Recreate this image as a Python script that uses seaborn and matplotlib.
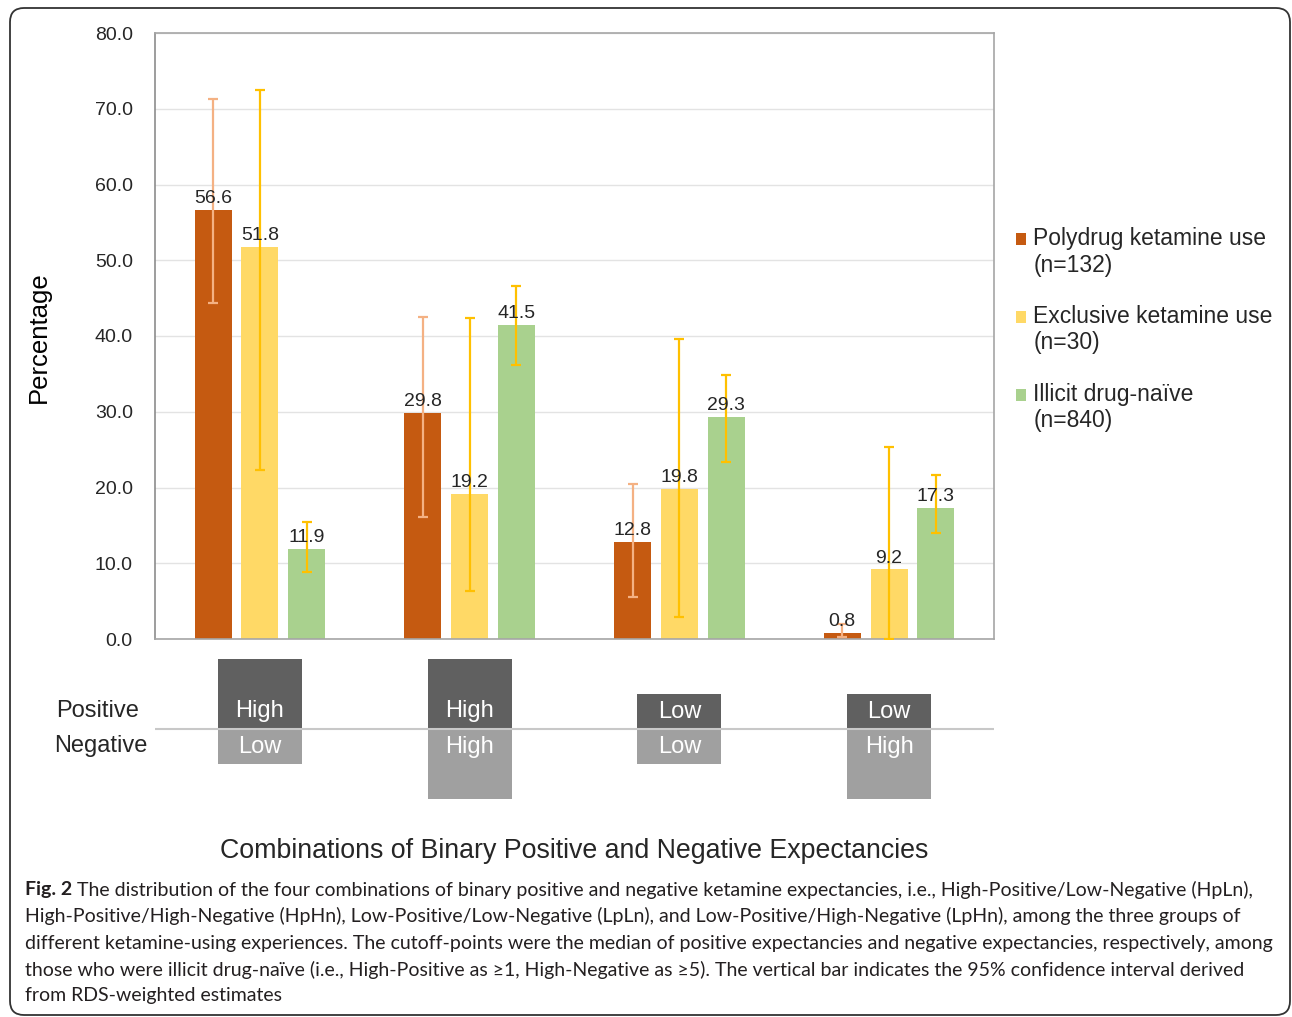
import numpy as np
import pandas as pd
import matplotlib.pyplot as plt
import seaborn as sns
from matplotlib.patches import FancyBboxPatch, Rectangle
from matplotlib.legend_handler import HandlerPatch

# categories / groups
combos = ["HpLn", "HpHn", "LpLn", "LpHn"]
groups = ["Polydrug ketamine use\n(n=132)",
          "Exclusive ketamine use\n(n=30)",
          "Illicit drug-naïve\n(n=840)"]

# percentages and 95% CI
poly = [56.6, 29.8, 12.8, 0.8]
excl = [51.8, 19.2, 19.8, 9.2]
naive = [11.9, 41.5, 29.3, 17.3]
poly_lo = [44.4, 16.1, 5.5, 0.2]
poly_hi = [71.3, 42.5, 20.5, 2.0]
excl_lo = [22.3, 6.3, 2.9, 0.0]
excl_hi = [72.5, 42.4, 39.6, 25.3]
naive_lo = [8.8, 36.2, 23.4, 14.0]
naive_hi = [15.4, 46.6, 34.9, 21.6]

positive = ["High", "High", "Low", "Low"]
negative = ["Low", "High", "Low", "High"]

bar_colors = ["#C55A11", "#FFD966", "#A9D18E"]
err_colors = ["#F4B183", "#FFC000", "#FFC000"]

W, H = 1292, 1017

def fx(px):
    return px / W

def fy(py):
    return 1 - py / H

sns.set_theme(style="white")
plt.rcParams['font.family'] = ['Liberation Sans', 'DejaVu Sans']

df = pd.DataFrame({
    "combo": combos * 3,
    "group": [g for g in groups for _ in combos],
    "pct": poly + excl + naive,
})

fig = plt.figure(figsize=(W / 100, H / 100), dpi=100)
ax = fig.add_axes([fx(155), fy(639), fx(994) - fx(155), fy(33) - fy(639)])

sns.barplot(data=df, x="combo", y="pct", hue="group", order=combos,
            hue_order=groups, palette=bar_colors, width=0.67, gap=0.21,
            errorbar=None, saturation=1, linewidth=0, ax=ax)

# error bars at the bar centres
lows = [poly_lo, excl_lo, naive_lo]
highs = [poly_hi, excl_hi, naive_hi]
vals = [poly, excl, naive]
bar_conts = list(ax.containers)
for i, cont in enumerate(bar_conts):
    xs = [p.get_x() + p.get_width() / 2 for p in cont.patches]
    v = np.array(vals[i])
    yerr = [v - np.array(lows[i]), np.array(highs[i]) - v]
    ax.errorbar(xs, v, yerr=yerr, fmt="none", ecolor=err_colors[i],
                elinewidth=1.6, capsize=3.6, capthick=1.6, zorder=3)
    ax.bar_label(cont, fmt="%.1f", padding=2, fontsize=14, color="#262626", zorder=4)

ax.set_ylim(0, 80)
ax.set_xlim(-0.5, 3.5)
ax.set_yticks(np.arange(0, 81, 10))
ax.set_yticklabels([f"{t:.1f}" for t in np.arange(0, 81, 10)])
ax.tick_params(axis="y", length=0, pad=16, labelsize=14, labelcolor="#262626")
ax.set_xticks([])
ax.set_xlabel("")
ax.set_ylabel("Percentage", fontsize=18.5, color="black")
ax.yaxis.set_label_coords(-0.124, 0.498)
ax.grid(axis="y", color="#E3E3E3", linewidth=1)
ax.set_axisbelow(True)
for s in ax.spines.values():
    s.set_color("#A6A6A6")
    s.set_linewidth(1.2)
ax.spines["left"].set_color("#8C8C8C")

# legend squares sit next to the first line of each two-line label
def first_line_square(legend, orig_handle, xdescent, ydescent, width, height, fontsize):
    return Rectangle((-xdescent, -ydescent + 0.59 * fontsize), width, height)

leg = ax.get_legend()
handles = leg.legend_handles
labels = [t.get_text() for t in leg.get_texts()]
leg.remove()
ax.legend(handles=handles, labels=labels, loc="upper left",
          bbox_to_anchor=(fx(1016), fy(227)), bbox_transform=fig.transFigure,
          frameon=False, fontsize=16.5, handlelength=0.45, handleheight=0.45,
          handletextpad=0.3, labelspacing=1.23, borderpad=0, borderaxespad=0,
          handler_map={h: HandlerPatch(patch_func=first_line_square) for h in handles})

# lower panel: positive / negative expectancy levels
ax2 = fig.add_axes([fx(155), fy(799), fx(994) - fx(155), fy(659) - fy(799)])
pos_h = [2 if p == "High" else 1 for p in positive]
neg_h = [-2 if n == "High" else -1 for n in negative]
xpos = np.arange(len(combos))
ax2.bar(xpos, pos_h, width=0.4, color="#606060", linewidth=0)
ax2.bar(xpos, neg_h, width=0.4, color="#A0A0A0", linewidth=0)
ax2.axhline(0, color="#C8C8C8", linewidth=1.5)
for i in xpos:
    ax2.text(i, 0.5, positive[i], ha="center", va="center", color="white", fontsize=17)
    ax2.text(i, -0.52, negative[i], ha="center", va="center", color="white", fontsize=17)
ax2.set_xlim(-0.5, 3.5)
ax2.set_ylim(-2, 2)
ax2.axis("off")

fig.text(fx(98), fy(711), "Positive", ha="center", va="center", fontsize=17)
fig.text(fx(101), fy(746), "Negative", ha="center", va="center", fontsize=17)

fig.text(fx(574), fy(851), "Combinations of Binary Positive and Negative Expectancies",
         ha="center", va="center", fontsize=19.3)

# caption
cap_font = ['Liberation Sans Narrow', 'Lato', 'DejaVu Sans']
cap_lines = [
    " The distribution of the four combinations of binary positive and negative ketamine expectancies, i.e., High-Positive/Low-Negative (HpLn),",
    "High-Positive/High-Negative (HpHn), Low-Positive/Low-Negative (LpLn), and Low-Positive/High-Negative (LpHn), among the three groups of",
    "different ketamine-using experiences. The cutoff-points were the median of positive expectancies and negative expectancies, respectively, among",
    "those who were illicit drug-naïve (i.e., High-Positive as ≥1, High-Negative as ≥5). The vertical bar indicates the 95% confidence interval derived",
    "from RDS-weighted estimates",
]
cap_y = [890, 916, 943, 970, 996]
fig_lbl = fig.text(fx(25), fy(cap_y[0]), "Fig. 2", ha="left", va="center",
                   fontsize=14, fontweight="bold", family=cap_font, color="#231F20")
ax.annotate(cap_lines[0], xy=(1, 0.5), xycoords=fig_lbl, ha="left", va="center",
            fontsize=14, family=cap_font, color="#231F20", annotation_clip=False)
for line, y in zip(cap_lines[1:], cap_y[1:]):
    fig.text(fx(25), fy(y), line, ha="left", va="center", fontsize=14,
             family=cap_font, color="#231F20")

# rounded frame around the figure
frame = FancyBboxPatch((10, 2), 1280, 1007, boxstyle="round,pad=0,rounding_size=14",
                       transform=None, fill=False, edgecolor="#333333", linewidth=1.3)
fig.patches.append(frame)

fig.savefig("out.png", dpi=100)
